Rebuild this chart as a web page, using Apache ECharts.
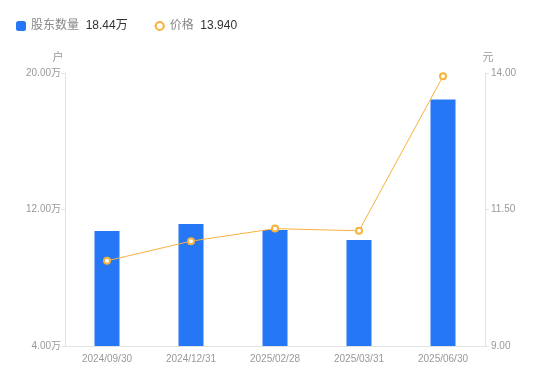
<!DOCTYPE html>
<html><head><meta charset="utf-8">
<script src="https://cdn.jsdelivr.net/npm/echarts@6/dist/echarts.min.js"></script>
<style>html,body{margin:0;padding:0;background:#fff}#c{width:550px;height:381px}</style>
</head><body><div id="c"></div>
<script>
const categories = ['2024/09/30','2024/12/31','2025/02/28','2025/03/31','2025/06/30'];
const holders = [10.74, 11.15, 10.80, 10.21, 18.44];
const prices = [10.56, 10.92, 11.15, 11.11, 13.94];
const holderLabel = '18.44万';
const priceLabel = '13.940';

const chart = echarts.init(document.getElementById('c'));
const font = '"Liberation Sans", "Noto Sans CJK SC", sans-serif';
chart.setOption({
  textStyle: {fontFamily: font},
  legend: {
    left: 11, top: 15, itemWidth: 10, itemHeight: 10, itemGap: 26,
    data: [{name: '股东数量', icon: 'roundRect'}, {name: '价格'}],
    formatter: function(n){ return '{a|' + n + '}  {b|' + (n === '股东数量' ? holderLabel : priceLabel) + '}'; },
    textStyle: {rich: {a: {color: '#888', fontSize: 12, fontFamily: font}, b: {color: '#333', fontSize: 12, fontFamily: font}}}
  },
  grid: {left: 65, right: 65, top: 73, bottom: 35},
  xAxis: {
    type: 'category', data: categories,
    axisLine: {lineStyle: {color: '#e3e3e3'}},
    axisTick: {show: false},
    axisLabel: {color: '#999', fontSize: 10, margin: 8}
  },
  yAxis: [{
    type: 'value', name: '户', min: 4, max: 20, interval: 8,
    nameTextStyle: {color: '#999', fontSize: 11, padding: [0, 14, 0, 0]},
    nameGap: 10,
    axisLine: {show: true, lineStyle: {color: '#e3e3e3'}},
    axisTick: {show: true, length: 4, lineStyle: {color: '#e3e3e3'}},
    splitLine: {show: false},
    axisLabel: {color: '#999', fontSize: 10, margin: 4, formatter: v => v.toFixed(2) + '万'}
  }, {
    type: 'value', name: '元', min: 9, max: 14, interval: 2.5,
    nameTextStyle: {color: '#999', fontSize: 11, padding: [0, 0, 0, 6]},
    nameGap: 10,
    axisLine: {show: true, lineStyle: {color: '#e3e3e3'}},
    axisTick: {show: true, length: 4, lineStyle: {color: '#e3e3e3'}},
    splitLine: {show: false},
    axisLabel: {color: '#999', fontSize: 10, margin: 6, formatter: v => v.toFixed(2)}
  }],
  series: [{
    name: '股东数量', type: 'bar', data: holders, barWidth: 25,
    itemStyle: {color: '#2577F5'}
  }, {
    name: '价格', type: 'line', yAxisIndex: 1, data: prices,
    symbol: 'emptyCircle', symbolSize: 6,
    lineStyle: {color: '#F9B23C', width: 1},
    itemStyle: {color: '#F9B23C', borderWidth: 1.5}
  }]
});
</script></body></html>
